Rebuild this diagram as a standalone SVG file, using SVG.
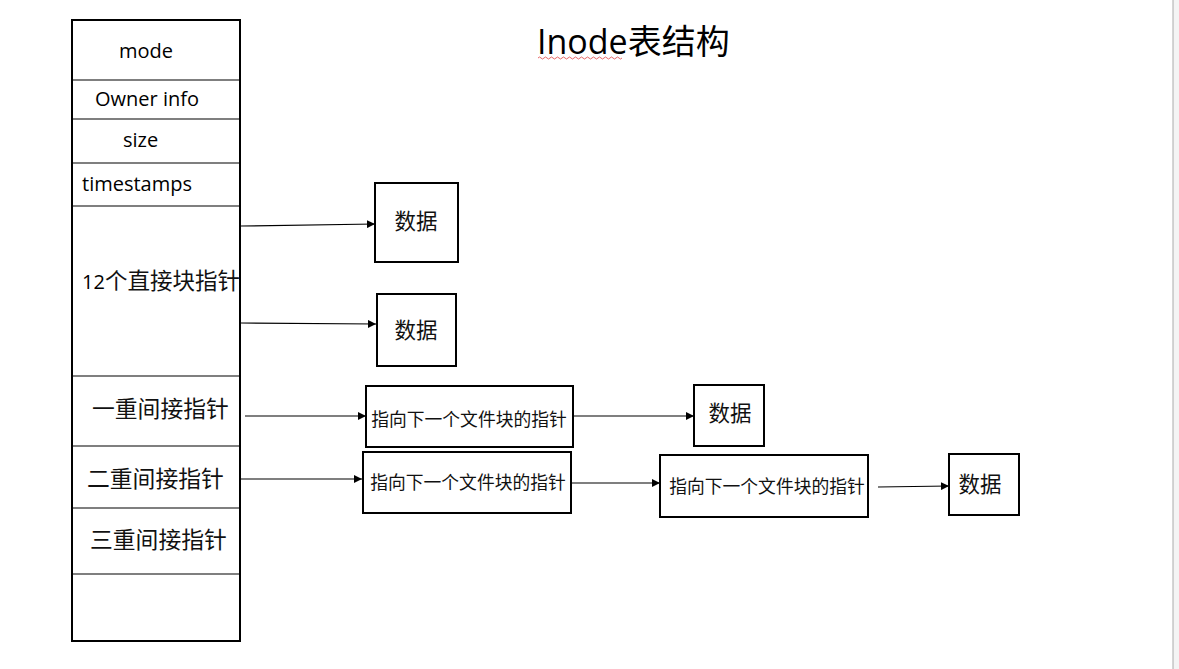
<svg xmlns="http://www.w3.org/2000/svg" width="1179" height="669" viewBox="0 0 1179 669">
<defs>
<marker id="ah" viewBox="0 0 10 10" refX="10" refY="5" markerWidth="8" markerHeight="8" markerUnits="userSpaceOnUse" orient="auto">
<path d="M0,0 L10,5 L0,10 z" fill="#000"/>
</marker>
<style>
.box{fill:#fff;stroke:#000;stroke-width:2}
.div{stroke:#000;stroke-width:1.2}
.en{font-family:"Open Sans","Noto Sans","Liberation Sans",sans-serif;font-size:20px;fill:#000}
.cn{font-family:"Noto Sans CJK SC","Noto Sans",sans-serif;font-size:21.5px;fill:#111}
.cl{font-family:"Noto Sans CJK SC","Noto Sans",sans-serif;font-size:22.8px;fill:#111}
.cs{font-family:"Noto Sans CJK SC","Noto Sans",sans-serif;font-size:17.8px;fill:#111}
.conn line{stroke:#000;stroke-width:1.2;marker-end:url(#ah)}
</style>
</defs>
<rect x="0" y="0" width="1179" height="669" fill="#fff"/>
<rect x="1173" y="0" width="6" height="669" fill="#f4f4f4"/>
<line x1="1173" y1="0" x2="1173" y2="669" stroke="#aaa" stroke-width="1"/>

<g id="title">
<text x="537" y="54" font-family="Open Sans,Noto Sans CJK SC,sans-serif" font-size="34" fill="#000">Inode<tspan font-family="Noto Sans CJK SC,sans-serif">表结构</tspan></text>
<path d="M538,58 q1.5,-2 3,0 t3,0 t3,0 t3,0 t3,0 t3,0 t3,0 t3,0 t3,0 t3,0 t3,0 t3,0 t3,0 t3,0 t3,0 t3,0 t3,0 t3,0 t3,0 t3,0 t3,0 t3,0 t3,0 t3,0 t3,0 t3,0 t3,0 t3,0" fill="none" stroke="#e04040" stroke-width="0.8"/>
</g>

<g id="inode-table">
<rect class="box" x="72" y="20" width="168" height="621"/>
<line class="div" x1="72" y1="80" x2="240" y2="80"/>
<line class="div" x1="72" y1="119" x2="240" y2="119"/>
<line class="div" x1="72" y1="163" x2="240" y2="163"/>
<line class="div" x1="72" y1="206" x2="240" y2="206"/>
<line class="div" x1="72" y1="376" x2="240" y2="376"/>
<line class="div" x1="72" y1="446" x2="240" y2="446"/>
<line class="div" x1="72" y1="508" x2="240" y2="508"/>
<line class="div" x1="72" y1="574" x2="240" y2="574"/>
<text class="en" x="146" y="58" text-anchor="middle">mode</text>
<text class="en" x="95" y="106">Owner info</text>
<text class="en" x="123" y="147">size</text>
<text class="en" x="82" y="191">timestamps</text>
<text class="en" x="82" y="289"><tspan>12</tspan><tspan class="cn" style="font-size:22.5px">个直接块指针</tspan></text>
<text class="cl" x="92" y="417">一重间接指针</text>
<text class="cl" x="87" y="487">二重间接指针</text>
<text class="cl" x="90" y="548">三重间接指针</text>
</g>

<g id="data1">
<rect class="box" x="375" y="183" width="83" height="79"/>
<text class="cn" x="416" y="229" text-anchor="middle">数据</text>
</g>
<g id="data2">
<rect class="box" x="377" y="294" width="79" height="72"/>
<text class="cn" x="416" y="338" text-anchor="middle">数据</text>
</g>
<g id="ptr1">
<rect class="box" x="366" y="386" width="207" height="61"/>
<text class="cs" x="469" y="426" text-anchor="middle">指向下一个文件块的指针</text>
</g>
<g id="data3">
<rect class="box" x="694" y="385" width="70" height="61"/>
<text class="cn" x="730" y="421" text-anchor="middle">数据</text>
</g>
<g id="ptr2a">
<rect class="box" x="363" y="452" width="208" height="61"/>
<text class="cs" x="468" y="489" text-anchor="middle">指向下一个文件块的指针</text>
</g>
<g id="ptr2b">
<rect class="box" x="660" y="455" width="208" height="62"/>
<text class="cs" x="767" y="493" text-anchor="middle">指向下一个文件块的指针</text>
</g>
<g id="data4">
<rect class="box" x="949" y="454" width="70" height="61"/>
<text class="cn" x="980" y="492" text-anchor="middle">数据</text>
</g>

<g id="connectors" class="conn">
<line x1="241" y1="226" x2="375" y2="224"/>
<line x1="241" y1="323" x2="376" y2="324"/>
<line x1="245" y1="416" x2="366" y2="416"/>
<line x1="240" y1="479" x2="362" y2="479"/>
<line x1="573" y1="416" x2="694" y2="416"/>
<line x1="571" y1="483" x2="660" y2="483"/>
<line x1="878" y1="487" x2="949" y2="486"/>
</g>
</svg>
